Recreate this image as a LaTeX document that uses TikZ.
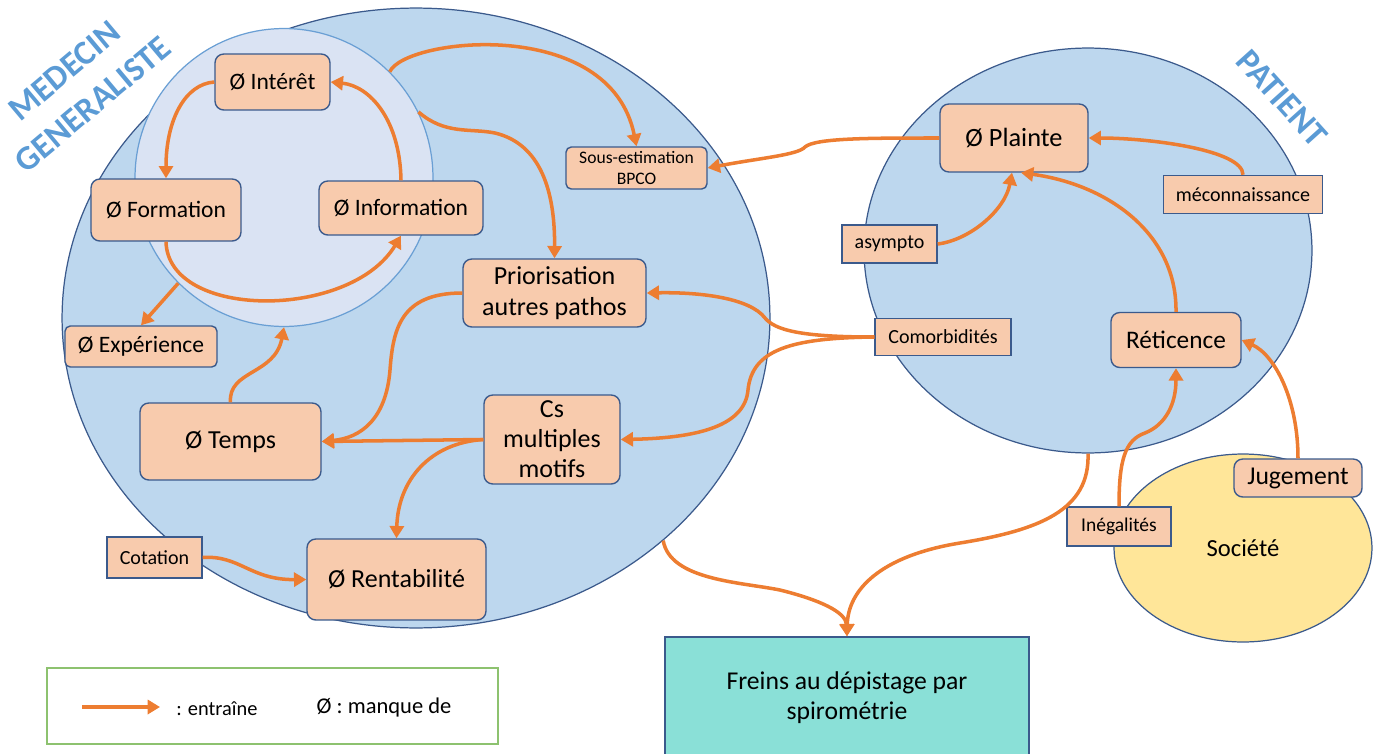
\documentclass[tikz,border=0pt]{standalone}
\usepackage{fontspec}
\setmainfont{Carlito}
\usetikzlibrary{shapes.geometric,arrows.meta,calc}
\definecolor{boxc}{HTML}{F8CBAD}
\definecolor{bordc}{HTML}{3B5A8C}
\definecolor{orc}{HTML}{ED7D31}
\definecolor{bigfill}{HTML}{BDD7EE}
\definecolor{innerfill}{HTML}{DAE3F3}
\definecolor{innerbord}{HTML}{6A9FD4}
\definecolor{yel}{HTML}{FFE699}
\definecolor{turq}{HTML}{8AE0D7}
\definecolor{greenl}{HTML}{8DC26F}
\definecolor{lblue}{HTML}{5B9BD5}
\tikzset{
  box/.style={draw=bordc, fill=boxc, line width=0.8pt, rounded corners=5pt, inner sep=0pt, align=center, font=\fontsize{13.4}{16}\selectfont},
  bigbox/.style={box, font=\fontsize{14.8}{17.5}\selectfont},
  sqbox/.style={box, rounded corners=0pt, font=\fontsize{11.4}{13.5}\selectfont},
  arr/.style={draw=orc, line width=2pt, -{Triangle[length=7pt,width=8pt]}},
  zone/.style={draw=bordc, line width=0.7pt, inner sep=0pt},
  title/.style={text=lblue, font=\bfseries\fontsize{19.5}{25}\selectfont, align=center}
}
\begin{document}
\begin{tikzpicture}[x=0.02cm,y=-0.02cm]
\useasboundingbox (0,0) rectangle (1377,754);
% zones
\node[zone, ellipse, fill=bigfill, minimum width=14.16cm, minimum height=12.4cm] (big) at (416,318) {};
\node[zone, ellipse, fill=bigfill, minimum width=8.96cm, minimum height=8.1cm] (patient) at (1088,250.5) {};
\node[zone, ellipse, fill=yel, minimum width=5.16cm, minimum height=3.76cm, font=\fontsize{14}{17}\selectfont] (societe) at (1243,548) {Société};
\node[circle, draw=innerbord, line width=0.7pt, fill=innerfill, inner sep=0pt, minimum size=5.96cm] (inner) at (284,177.5) {};
% titles
\node[title, rotate=40] (medecin) at (78.5,87.5) {MEDECIN\\GENERALISTE};
\node[title, rotate=-48] (patlab) at (1282,98) {PATIENT};
% boxes
\node[box, minimum width=2.3cm, minimum height=1.12cm] (interet) at (272.5,82) {Ø Intérêt};
\node[box, minimum width=3.0cm, minimum height=1.24cm] (formation) at (166,210) {Ø Formation};
\node[box, minimum width=3.28cm, minimum height=1.08cm] (information) at (401,208) {Ø Information};
\node[box, rounded corners=3pt, minimum width=3.04cm, minimum height=0.82cm] (experience) at (141,346.5) {Ø Expérience};
\node[box, rounded corners=3pt, minimum width=2.82cm, minimum height=0.84cm, font=\fontsize{10}{12}\selectfont] (sousest) at (636.5,168) {Sous-estimation\\BPCO};
\node[bigbox, minimum width=3.66cm, minimum height=1.36cm, font=\fontsize{14.8}{18}\selectfont] (prior) at (554.5,293) {Priorisation\\autres pathos};
\node[bigbox, minimum width=3.62cm, minimum height=1.54cm] (temps) at (230.5,441.5) {Ø Temps};
\node[bigbox, minimum width=2.72cm, minimum height=1.78cm, font=\fontsize{14.8}{17}\selectfont] (cs) at (552,439.5) {Cs\\multiples\\motifs};
\node[bigbox, minimum width=3.58cm, minimum height=1.62cm] (rent) at (396.5,579.5) {Ø Rentabilité};
\node[sqbox, minimum width=1.9cm, minimum height=0.82cm] (cotation) at (154.5,557.5) {Cotation};
\node[bigbox, font=\fontsize{15}{18}\selectfont, minimum width=2.96cm, minimum height=1.36cm] (plainte) at (1014,138) {Ø Plainte};
\node[sqbox, minimum width=3.18cm, minimum height=0.76cm] (mecon) at (1243,194.5) {méconnaissance};
\node[sqbox, minimum width=1.9cm, minimum height=0.76cm] (asympto) at (889.5,244) {asympto};
\node[sqbox, minimum width=2.72cm, minimum height=0.74cm] (comorb) at (943,337) {Comorbidités};
\node[bigbox, font=\fontsize{14.4}{17}\selectfont, minimum width=2.6cm, minimum height=1.1cm] (ret) at (1176,340) {Réticence};
\node[bigbox, font=\fontsize{14.6}{17}\selectfont, minimum width=2.56cm, minimum height=0.76cm] (jug) at (1298,478) {Jugement};
\node[sqbox, font=\fontsize{11.1}{13}\selectfont, minimum width=2.08cm, minimum height=0.78cm] (ineg) at (1119,526.5) {Inégalités};
\node[draw=bordc, line width=0.8pt, fill=turq, inner sep=0pt, align=center, minimum width=7.28cm, minimum height=2.44cm, font=\fontsize{14.6}{17}\selectfont] (freins) at (847,698) {Freins au dépistage par\\spirométrie};
% legend
\node[draw=greenl, line width=0.9pt, minimum width=9.02cm, minimum height=1.52cm, inner sep=0pt] (legend) at (272.5,706) {};
\coordinate (la1) at (82,707);
\coordinate (la2) at (160,707);
\draw[arr] (la1) -- (la2);
\node[anchor=west, inner sep=0pt, font=\fontsize{11.6}{14}\selectfont] (lent) at (176,709) {: entraîne};
\node[inner sep=0pt, font=\fontsize{12.8}{15}\selectfont] (lman) at (384,707) {Ø : manque de};
% connectors
\draw[arr] (information.north) .. controls (400,120) and (370,86) .. (interet.east);
\draw[arr] (interet.west) .. controls (185,84) and (166,120) .. (formation.north);
\draw[arr] (formation.south) .. controls (168,320) and (350,320) .. (information.south);
\draw[arr] (inner.225) -- (experience.north);
\draw[arr] (temps.north) .. controls (228,370) and (275,375) .. (inner.south);
\draw[arr] (inner.45) .. controls (405,38) and (610,15) .. (sousest.north);
\draw[arr] (inner.26) .. controls (445,135) and (470,128) .. (495,133) .. controls (545,145) and (555,200) .. (prior.north);
\draw[arr] (plainte.west) .. controls (870,138) and (815,138) .. (805,147) .. controls (798,155) and (760,158) .. (sousest.east);
\draw[arr] (mecon.north) .. controls (1243,150) and (1150,138) .. (plainte.east);
\draw[arr] (asympto.east) .. controls (970,240) and (1005,210) .. ($(plainte.south)+(-2,0)$);
\draw[arr] (ret.north) .. controls (1177,235) and (1110,185) .. ($(plainte.south)+(7,0)$);
\draw[arr] (comorb.west) .. controls (800,337) and (775,330) .. (765,318) .. controls (750,298) and (700,292) .. (prior.east);
\draw[arr] (comorb.west) .. controls (790,338) and (752,350) .. (748,390) .. controls (745,425) and (700,438) .. (cs.east);
\draw[arr] (prior.west) .. controls (400,293) and (393,330) .. (390,370) .. controls (386,420) and (360,438) .. (temps.east);
\draw[arr] (cs.west) -- (temps.east);
\draw[arr] (cs.west) .. controls (430,443) and (398,480) .. (rent.north);
\draw[arr] (cotation.east) .. controls (240,555) and (250,580) .. (rent.west);
\draw[arr] (big.-42) .. controls (670,580) and (740,582) .. (780,590) .. controls (820,600) and (846,612) .. (freins.north);
\draw[arr] (patient.-90) .. controls (1090,510) and (1040,530) .. (960,543) .. controls (880,556) and (848,590) .. (freins.north);
\draw[arr] (ineg.north) .. controls (1119,460) and (1125,440) .. (1145,433) .. controls (1165,425) and (1176,405) .. (ret.south);
\draw[arr] (jug.north) .. controls (1298,400) and (1275,355) .. (ret.east);
\end{tikzpicture}
\end{document}
